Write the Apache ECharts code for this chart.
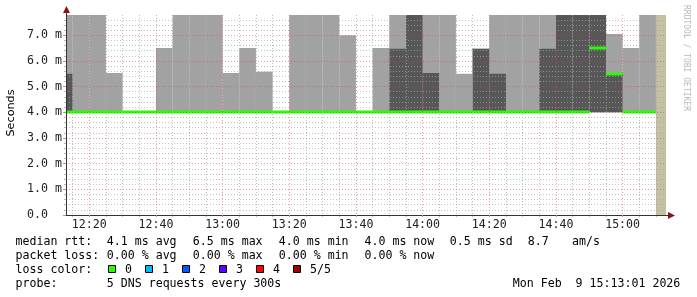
<!DOCTYPE html>
<html><head><meta charset="utf-8">
<script src="https://cdn.jsdelivr.net/npm/echarts@6/dist/echarts.min.js"></script>
<style>html,body{margin:0;padding:0;background:#fff}#c{width:697px;height:297px}</style>
</head><body><div id="c"></div>
<script>
// ---------- data ----------
const stepStart = ['12:10','12:15','12:20','12:25','12:30','12:35','12:40','12:45','12:50','12:55',
  '13:00','13:05','13:10','13:15','13:20','13:25','13:30','13:35','13:40','13:45','13:50','13:55',
  '14:00','14:05','14:10','14:15','14:20','14:25','14:30','14:35','14:40','14:45','14:50','14:55',
  '15:00','15:05'];
// outer smoke band (light) upper edge, ms (null = no band)
const lightTop = [7.8,7.8,7.8,5.53,null,null,6.5,7.8,7.8,7.8,
  5.53,6.5,5.58,null,7.8,7.8,7.8,7.0,null,6.5,7.8,7.8,
  7.8,7.8,5.5,6.47,7.8,7.8,7.8,7.8,7.8,7.8,7.8,7.05,
  6.5,7.8];
// inner smoke band (dark) upper edge, ms (null = no band)
const darkTop = [5.5,null,null,null,null,null,null,null,null,null,
  null,null,null,null,null,null,null,null,null,null,6.47,7.8,
  5.53,null,null,6.47,5.5,null,null,6.47,7.8,7.8,7.8,5.5,
  null,null];
const smokeLow = 4.0;
const median = [4.0,4.0,4.0,4.0,4.0,4.0,4.0,4.0,4.0,4.0,
  4.0,4.0,4.0,4.0,4.0,4.0,4.0,4.0,4.0,4.0,4.0,4.0,
  4.0,4.0,4.0,4.0,4.0,4.0,4.0,4.0,4.0,4.0,6.5,5.5,
  4.0,4.0];
const unknownStart = '15:10';
const graphStartTime = '12:13:01';
const graphEndTime = '15:13:01';
const stepSeconds = 300;
const yTicks = [0,1,2,3,4,5,6,7];
const yTickLabels = ['0.0','1.0 m','2.0 m','3.0 m','4.0 m','5.0 m','6.0 m','7.0 m'];
const xMajorTicks = ['12:20','12:40','13:00','13:20','13:40','14:00','14:20','14:40','15:00'];
const yMaxValue = 7.788;

const legendRtt = ['median rtt:','4.1 ms avg','6.5 ms max','4.0 ms min','4.0 ms now','0.5 ms sd','8.7','am/s'];
const legendLoss = ['packet loss:','0.00 % avg','0.00 % max','0.00 % min','0.00 % now'];
const lossColorTitle = 'loss color:';
const lossColorLabels = ['0','1','2','3','4','5/5'];
const lossColors = ['#26ff00','#00b8ff','#0059ff','#5e00ff','#ff0000','#a00000'];
const probeTitle = 'probe:';
const probeText = '5 DNS requests every 300s';
const dateText = 'Mon Feb  9 15:13:01 2026';
const yAxisName = 'Seconds';
const watermark = 'RRDTOOL / TOBI OETIKER';

// ---------- helpers ----------
function tsec(s){const p=s.split(':').map(Number);return p[0]*3600+p[1]*60+(p[2]||0);}
function fmt(v){const h=Math.floor(v/3600),m=Math.round((v%3600)/60);return h+':'+String(m).padStart(2,'0');}
const xMin = tsec(graphStartTime), xMax = tsec(graphEndTime);
const majorVals = xMajorTicks.map(tsec);
const minorVals = [];
for (let v = Math.ceil(xMin/stepSeconds)*stepSeconds; v < xMax; v += stepSeconds) {
  if (majorVals.indexOf(v) < 0) minorVals.push(v);
}

const lightData = [], darkData = [], medData = [];
stepStart.forEach((s,i)=>{
  const t = tsec(s);
  if (lightTop[i] != null) lightData.push([t, smokeLow, lightTop[i]]);
  if (darkTop[i] != null) darkData.push([t, smokeLow, darkTop[i]]);
  medData.push([t, median[i]]);
});
const unknownData = [[tsec(unknownStart), 0, yMaxValue, xMax]];

function rectRender(color){
  return function(params, api){
    const t0 = api.value(0), lo = api.value(1), hi = api.value(2);
    const p0 = api.coord([t0, hi]), p1 = api.coord([t0 + stepSeconds, lo]);
    const r = echarts.graphic.clipRectByRect({x:p0[0], y:p0[1], width:p1[0]-p0[0], height:p1[1]-p0[1]}, params.coordSys);
    if (!r) return null;
    return {type:'rect', shape:r, style:{fill:color}};
  };
}
function medRender(params, api){
  const t0 = api.value(0), v = api.value(1);
  const p0 = api.coord([t0, v]), p1 = api.coord([t0 + stepSeconds, v]);
  const r = echarts.graphic.clipRectByRect({x:p0[0], y:Math.round(p0[1])-1.5, width:p1[0]-p0[0], height:3}, params.coordSys);
  if (!r) return null;
  return {type:'rect', shape:r, style:{fill:lossColors[0]}};
}
function unknownRender(params, api){
  const t0 = api.value(0), lo = api.value(1), hi = api.value(2), t1 = api.value(3);
  const p0 = api.coord([t0, hi]), p1 = api.coord([t1, lo]);
  const r = echarts.graphic.clipRectByRect({x:p0[0], y:p0[1], width:p1[0]-p0[0], height:p1[1]-p0[1]}, params.coordSys);
  if (!r) return null;
  return {type:'rect', shape:r, style:{fill:'#c4c1a1'}};
}

const MONO = '"DejaVu Sans Mono", monospace';
const FS = 11.6;
const minorGrid = {color:'rgba(165,165,165,0.7)', width:1, type:[1,2]};
const majorGrid = {color:'rgba(205,70,70,0.5)', width:1, type:[1,2]};

// ---------- layout of legend text ----------
const graphics = [];
function txt(x, y, s, extra){
  graphics.push(Object.assign({type:'text', x:x, y:y, silent:true,
    style:{text:s, font: FS + 'px ' + MONO, fill:'#000', textVerticalAlign:'middle', textAlign:'left'}}, extra||{}));
}
const rttX = [15.5, 106.8, 192.8, 278.8, 364.5, 449.8, 527.8, 572];
legendRtt.forEach((s,i)=>txt(rttX[i], 241.5, s));
const lossX = [15.5, 106.8, 192.8, 278.8, 364.5];
legendLoss.forEach((s,i)=>txt(lossX[i], 255.5, s));
txt(15.5, 269.5, lossColorTitle);
lossColorLabels.forEach((s,i)=>{
  const bx = 108.5 + i*37;
  graphics.push({type:'rect', silent:true, shape:{x:bx, y:265.5, width:7, height:7},
    style:{fill:lossColors[i], stroke:'#000', lineWidth:1}});
  txt(bx + 16.5, 269.5, s);
});
txt(15.5, 283.5, probeTitle);
txt(106.8, 283.5, probeText);
txt(512.8, 283.5, dateText);
// axis name & watermark
graphics.push({type:'text', x:11, y:113, rotation:Math.PI/2, silent:true,
  style:{text:yAxisName, font:'11.2px "DejaVu Sans", sans-serif', fill:'#000', textAlign:'center', textVerticalAlign:'middle'}});
graphics.push({type:'text', x:686.5, y:5, rotation:-Math.PI/2, silent:true,
  style:{text:watermark, font:'8px ' + MONO, fill:'#b8b8b8', textAlign:'left', textVerticalAlign:'middle'}});
// axis extensions and arrows
graphics.push({type:'line', silent:true, shape:{x1:666, y1:215.5, x2:670, y2:215.5}, style:{stroke:'#333', lineWidth:1}});
graphics.push({type:'line', silent:true, shape:{x1:66.5, y1:15, x2:66.5, y2:11}, style:{stroke:'#333', lineWidth:1}});
graphics.push({type:'polygon', silent:true, shape:{points:[[668,212],[675,215.5],[668,219]]}, style:{fill:'#8f1212'}});
graphics.push({type:'polygon', silent:true, shape:{points:[[63,13],[66.5,6],[70,13]]}, style:{fill:'#8f1212'}});

const chart = echarts.init(document.getElementById('c'), null, {renderer:'canvas'});
chart.setOption({
  animation:false,
  backgroundColor:'#fff',
  grid:{left:66, right:31, top:15, bottom:82, containLabel:false},
  xAxis:[{
    type:'value', min:xMin, max:xMax, position:'bottom', z:10,
    axisLine:{show:true, lineStyle:{color:'#333', width:1}},
    axisTick:{show:true, customValues:majorVals, length:2, lineStyle:{color:'#c88'}},
    axisLabel:{show:true, customValues:majorVals, formatter:fmt, margin:4,
      fontFamily:'DejaVu Sans Mono', fontSize:FS, color:'#222'},
    splitLine:{show:true, lineStyle:majorGrid}
  },{
    type:'value', min:xMin, max:xMax, position:'bottom', z:9,
    axisLine:{show:false},
    axisTick:{show:true, customValues:minorVals, length:2, lineStyle:{color:'#bbb'}},
    axisLabel:{show:false, customValues:minorVals},
    splitLine:{show:true, lineStyle:minorGrid}
  }],
  yAxis:{
    type:'value', min:0, max:yMaxValue, interval:1, z:10,
    axisLine:{show:true, lineStyle:{color:'#333', width:1}},
    axisTick:{show:true, customValues:yTicks, length:3, lineStyle:{color:'#c88'}},
    minorTick:{show:true, splitNumber:5, length:2, lineStyle:{color:'#bbb'}},
    axisLabel:{show:true, customValues:yTicks, margin:39, align:'left',
      formatter:function(v){const i=yTicks.indexOf(Math.round(v));return i>=0?yTickLabels[i]:'';},
      fontFamily:'DejaVu Sans Mono', fontSize:FS, color:'#222'},
    splitLine:{show:true, lineStyle:majorGrid},
    minorSplitLine:{show:true, lineStyle:minorGrid}
  },
  series:[
    {type:'custom', name:'unknown', renderItem:unknownRender, data:unknownData, z:1, silent:true},
    {type:'custom', name:'smoke outer', renderItem:rectRender('#a2a2a2'), data:lightData, z:2, silent:true},
    {type:'custom', name:'smoke inner', renderItem:rectRender('#575757'), data:darkData, z:3, silent:true},
    {type:'custom', name:'median', renderItem:medRender, data:medData, z:4, silent:true}
  ],
  graphic:graphics
});
</script></body></html>
